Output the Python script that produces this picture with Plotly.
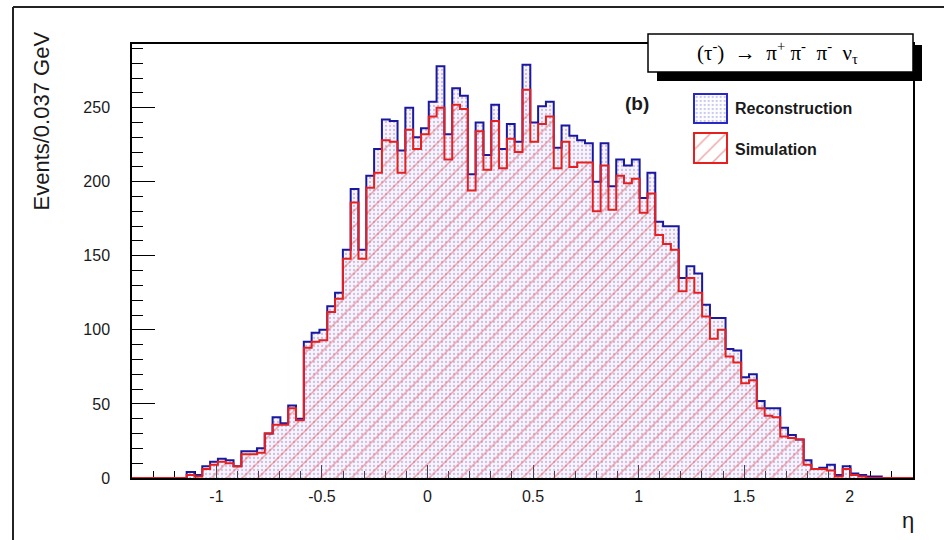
import plotly.graph_objects as go

# ---------------- data ----------------
bin_low = -1.4
bin_width = 0.037
n_bins = 100

reconstruction = [0, 0, 0, 0, 0, 0, 0, 4, 2, 8,
                  11, 13, 12, 8, 18, 18, 20, 30, 41, 37,
                  49, 40, 92, 98, 100, 116, 125, 154, 195, 154,
                  204, 222, 242, 241, 221, 250, 230, 236, 254, 278,
                  232, 263, 258, 205, 240, 218, 252, 222, 239, 227,
                  279, 240, 251, 254, 223, 238, 231, 228, 226, 200,
                  226, 197, 215, 211, 215, 189, 206, 173, 170, 170,
                  135, 143, 138, 117, 108, 108, 87, 86, 68, 70,
                  52, 47, 47, 34, 29, 26, 12, 6, 7, 9,
                  2, 8, 3, 2, 1, 1, 0, 0, 0, 0]

simulation = [0, 0, 0, 0, 0, 0, 0, 2, 1, 6,
              9, 11, 10, 8, 16, 16, 17, 30, 36, 36,
              47, 39, 88, 92, 93, 112, 121, 148, 186, 148,
              196, 206, 228, 227, 206, 235, 222, 232, 244, 250,
              215, 252, 249, 194, 234, 208, 241, 209, 229, 220,
              262, 227, 239, 244, 209, 227, 210, 213, 213, 180,
              211, 181, 204, 199, 202, 179, 192, 164, 158, 154,
              126, 135, 125, 109, 94, 100, 82, 78, 64, 66,
              47, 42, 41, 28, 27, 26, 9, 6, 6, 5,
              1, 6, 2, 1, 0, 0, 0, 0, 0, 0]

series_names = ["Reconstruction", "Simulation"]
x_tick_vals = [-1, -0.5, 0, 0.5, 1, 1.5, 2]
x_tick_text = ["-1", "-0.5", "0", "0.5", "1", "1.5", "2"]
y_tick_vals = [0, 50, 100, 150, 200, 250]
y_tick_text = ["0", "50", "100", "150", "200", "250"]

# ---------------- derived ----------------
edges = [bin_low + bin_width * i for i in range(n_bins + 1)]
centers = [(edges[i] + edges[i + 1]) / 2 for i in range(n_bins)]
x_max = edges[-1]
y_max = 1.05 * max(reconstruction)

# layout geometry (pixels)
W, H = 944, 540
L, R, T, B = 132, 913, 44, 478
PW, PH = R - L, B - T


def px(x):
    return (x - L) / PW


def py(y):
    return (B - y) / PH


BLUE = "rgb(25,25,160)"
RED = "rgb(228,32,32)"
SANS = "Liberation Sans, Arial, Helvetica, sans-serif"
SERIF = "Liberation Serif, Times New Roman, serif"

reco_pattern = dict(shape=".", size=4, solidity=0.25,
                    fgcolor="rgba(70,70,210,0.6)", bgcolor="rgba(240,215,235,0.3)")
sim_pattern = dict(shape="/", size=11, solidity=0.14,
                   fgcolor="rgba(222,60,60,0.9)", bgcolor="rgba(0,0,0,0)")

fig = go.Figure()

fig.add_trace(go.Bar(x=centers, y=reconstruction, width=bin_width,
                     marker=dict(color="rgba(0,0,0,0)", line=dict(width=0), pattern=reco_pattern),
                     showlegend=False, hoverinfo="skip"))
fig.add_trace(go.Bar(x=centers, y=simulation, width=bin_width,
                     marker=dict(color="rgba(0,0,0,0)", line=dict(width=0), pattern=sim_pattern),
                     showlegend=False, hoverinfo="skip"))
fig.add_trace(go.Scatter(x=edges, y=reconstruction + [reconstruction[-1]], mode="lines",
                         line=dict(shape="hv", color=BLUE, width=2),
                         showlegend=False, hoverinfo="skip"))
fig.add_trace(go.Scatter(x=edges, y=simulation + [simulation[-1]], mode="lines",
                         line=dict(shape="hv", color=RED, width=2),
                         showlegend=False, hoverinfo="skip"))

# legend swatches drawn on a small hidden axis pair
sw_x0, sw_x1 = 694, 727
sw_w = sw_x1 - sw_x0
sw_top, sw_bot = 94, 163
fig.add_trace(go.Bar(x=[0], y=[29], base=[40], width=1, xaxis="x2", yaxis="y2",
                     marker=dict(color="white", line=dict(color="rgb(40,40,200)", width=2),
                                 pattern=dict(shape=".", size=4, solidity=0.25,
                                              fgcolor="rgba(70,70,210,0.6)", bgcolor="white")),
                     showlegend=False, hoverinfo="skip", name=series_names[0]))
fig.add_trace(go.Bar(x=[0], y=[30], base=[0], width=1, xaxis="x2", yaxis="y2",
                     marker=dict(color="white", line=dict(color=RED, width=2),
                                 pattern=dict(shape="/", size=11, solidity=0.14,
                                              fgcolor="rgba(222,60,60,0.9)", bgcolor="white")),
                     showlegend=False, hoverinfo="skip", name=series_names[1]))

pad_x = 0.1 * sw_w
fig.update_layout(
    xaxis2=dict(domain=[px(sw_x0 - pad_x), px(sw_x1 + pad_x)], range=[-0.6, 0.6],
                visible=False, anchor="y2", fixedrange=True),
    yaxis2=dict(domain=[py(sw_bot + 3), py(sw_top - 3)], range=[-3, 72],
                visible=False, anchor="x2", fixedrange=True),
)

tickfont = dict(family=SANS, size=16, color="#1a1a1a")

fig.update_layout(
    width=W, height=H,
    margin=dict(l=L, r=W - R, t=T, b=H - B, pad=0),
    paper_bgcolor="white", plot_bgcolor="white",
    barmode="overlay",
    xaxis=dict(range=[bin_low, x_max], showgrid=False, zeroline=False,
               showline=True, linecolor="black", linewidth=1.5, mirror=True,
               ticks="inside", ticklen=13, tickwidth=1.3, tickcolor="black",
               tickvals=x_tick_vals, ticktext=x_tick_text, tickfont=tickfont,
               ticklabelstandoff=3,
               minor=dict(dtick=0.1, tick0=0, ticks="inside", ticklen=7,
                          tickwidth=1.2, tickcolor="black", showgrid=False),
               layer="below traces", domain=[0, 1]),
    yaxis=dict(range=[0, y_max], showgrid=False, zeroline=False,
               showline=True, linecolor="black", linewidth=1.5, mirror=True,
               ticks="inside", ticklen=23, tickwidth=1.3, tickcolor="black",
               tickvals=y_tick_vals, ticktext=y_tick_text, tickfont=tickfont,
               ticklabelstandoff=17,
               minor=dict(dtick=10, tick0=0, ticks="inside", ticklen=11,
                          tickwidth=1.2, tickcolor="black", showgrid=False),
               layer="below traces", domain=[0, 1]),
)

shapes = [
    # canvas border (left and top)
    dict(type="line", xref="paper", yref="paper", x0=px(13), x1=px(13), y0=py(7), y1=py(545),
         line=dict(color="#222", width=2)),
    dict(type="line", xref="paper", yref="paper", x0=px(13), x1=px(950), y0=py(7), y1=py(7),
         line=dict(color="#222", width=2)),
    # title box shadow and box
    dict(type="rect", xref="paper", yref="paper", x0=px(657), x1=px(922), y0=py(81), y1=py(45),
         fillcolor="black", line=dict(width=0)),
    dict(type="rect", xref="paper", yref="paper", x0=px(648), x1=px(913), y0=py(72), y1=py(34),
         fillcolor="white", line=dict(color="black", width=1.5)),
]
fig.update_layout(shapes=shapes)

annotations = [
    dict(text="Events/0.037 GeV", xref="paper", yref="paper", x=px(41), y=py(30),
         xanchor="center", yanchor="top", textangle=-90, showarrow=False,
         font=dict(family=SANS, size=22, color="#1a1a1a")),
    dict(text="η", xref="paper", yref="paper", x=px(908), y=py(520),
         xanchor="center", yanchor="middle", showarrow=False,
         font=dict(family=SANS, size=22, color="#1a1a1a")),
    dict(text="(τ<sup>-</sup>)  →  π<sup>+</sup> π<sup>-</sup>  π<sup>-</sup>  ν<sub>τ</sub>",
         xref="paper", yref="paper", x=px(777), y=py(53),
         xanchor="center", yanchor="middle", showarrow=False,
         font=dict(family=SERIF, size=21, color="black")),
    dict(text="<b>(b)</b>", xref="paper", yref="paper", x=px(637), y=py(104),
         xanchor="center", yanchor="middle", showarrow=False,
         font=dict(family=SANS, size=19, color="#1a1a1a")),
    dict(text="<b>" + series_names[0] + "</b>", xref="paper", yref="paper", x=px(733), y=py(109),
         xanchor="left", yanchor="middle", showarrow=False,
         font=dict(family=SANS, size=16, color="#1a1a1a")),
    dict(text="<b>" + series_names[1] + "</b>", xref="paper", yref="paper", x=px(733), y=py(149),
         xanchor="left", yanchor="middle", showarrow=False,
         font=dict(family=SANS, size=16, color="#1a1a1a")),
]
fig.update_layout(annotations=annotations)

fig.write_html("out.html")
